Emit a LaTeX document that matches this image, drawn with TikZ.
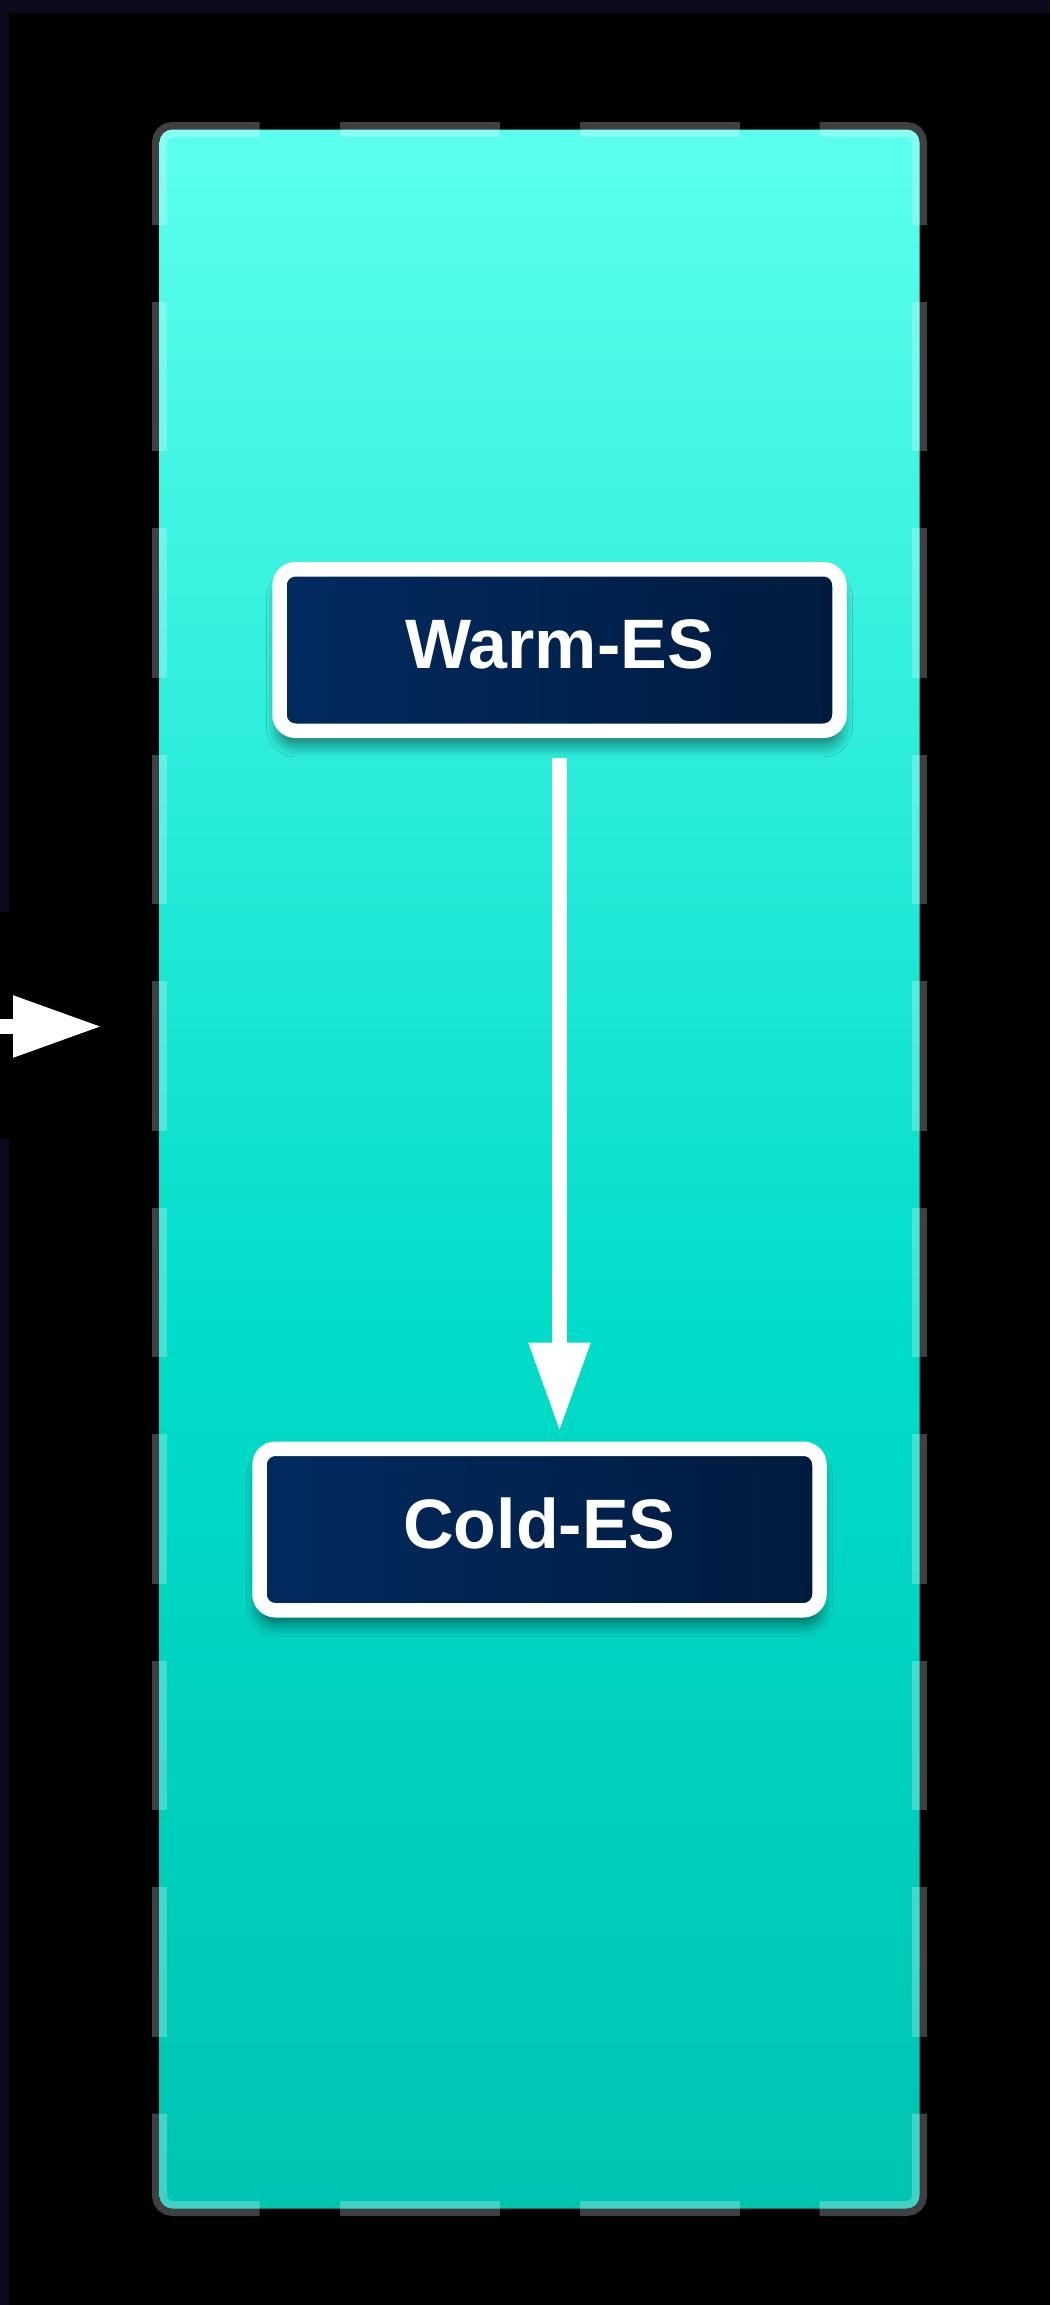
\documentclass[tikz,border=0pt]{standalone}
\usepackage{fontspec}
\newfontfamily\labelfont{Liberation Sans}
\usetikzlibrary{arrows.meta,shadows.blur}

\definecolor{pagebg}{HTML}{0B0B1B}
\definecolor{tealtop}{HTML}{5CFFEE}
\definecolor{tealdeep}{HTML}{00DCC9}
\definecolor{tealbot}{HTML}{00C4B2}
\definecolor{navyl}{HTML}{012B60}
\definecolor{navyr}{HTML}{001B3E}

% cluster fill: light aqua at the top, deeper teal towards the bottom
\pgfdeclareverticalshading{clustershade}{100bp}{color(0bp)=(tealbot); color(25bp)=(tealbot); color(46bp)=(tealdeep); color(75bp)=(tealtop); color(100bp)=(tealtop)}

\tikzset{
  esnode/.style={rectangle, rounded corners=16pt, draw=white, line width=14.5pt,
    left color=navyl, right color=navyr,
    minimum width=560pt, minimum height=161.5pt, inner sep=0pt,
    text=white, font=\labelfont\bfseries\fontsize{70}{84}\selectfont,
    text height=50pt, text depth=13pt,
    blur shadow={shadow xshift=0pt, shadow yshift=-13pt,
                 shadow blur radius=13pt, shadow blur steps=10, shadow opacity=55}},
  flow/.style={draw=white, line width=15pt, -{Triangle[length=89pt,width=58pt]}},
  rim/.style={draw=white, draw opacity=0.25, line width=15pt, line cap=butt},
}

\begin{document}
\begin{tikzpicture}[x=1pt, y=1pt]
  \useasboundingbox (0,0) rectangle (1050,-2305);

  % backdrop
  \fill[pagebg] (0,0) rectangle (1050,-2305);
  \fill[black] (9,-13) rectangle (1050,-2305);
  \fill[black] (0,-912) rectangle (9,-1139);

  % cluster body
  \shade[shading=clustershade, rounded corners=13pt] (159.5,-129.5) rectangle (919.5,-2208.5);

  % dashed cluster rim: corner pieces
  \draw[rim, rounded corners=13pt] (159.5,-225) |- (259.5,-129.5);
  \draw[rim, rounded corners=13pt] (819.5,-129.5) -| (919.5,-225);
  \draw[rim, rounded corners=13pt] (919.5,-2113.5) |- (819.5,-2208.5);
  \draw[rim, rounded corners=13pt] (259.5,-2208.5) -| (159.5,-2113.5);
  % dashed cluster rim: straight pieces
  \foreach \a/\b in {339.5/499.5, 579.5/739.5} {
    \draw[rim] (\a,-129.5) -- (\b,-129.5);
    \draw[rim] (\a,-2208.5) -- (\b,-2208.5);
  }
  \foreach \a/\b in {301.5/451, 528/677.5, 754.5/904, 981/1130.5,
                     1207.5/1357, 1434/1583.5, 1660.5/1810, 1887/2036.5} {
    \draw[rim] (159.5,-\a) -- (159.5,-\b);
    \draw[rim] (919.5,-\a) -- (919.5,-\b);
  }

  % stores
  \node[esnode] (warm) at (559.5,-650) {Warm-ES};
  \node[esnode] (cold) at (539.5,-1529.5) {Cold-ES};

  % incoming flow from the left
  \coordinate (inlet) at (0,-1026.5);
  \coordinate (inend) at (102,-1026.5);
  \draw[flow] (inlet) -- (inend);

  % warm to cold
  \coordinate (lane) at (559.5,0);
  \draw[flow, shorten <=19.75pt, shorten >=10pt] (warm.south -| lane) -- (cold.north -| lane);
\end{tikzpicture}
\end{document}
